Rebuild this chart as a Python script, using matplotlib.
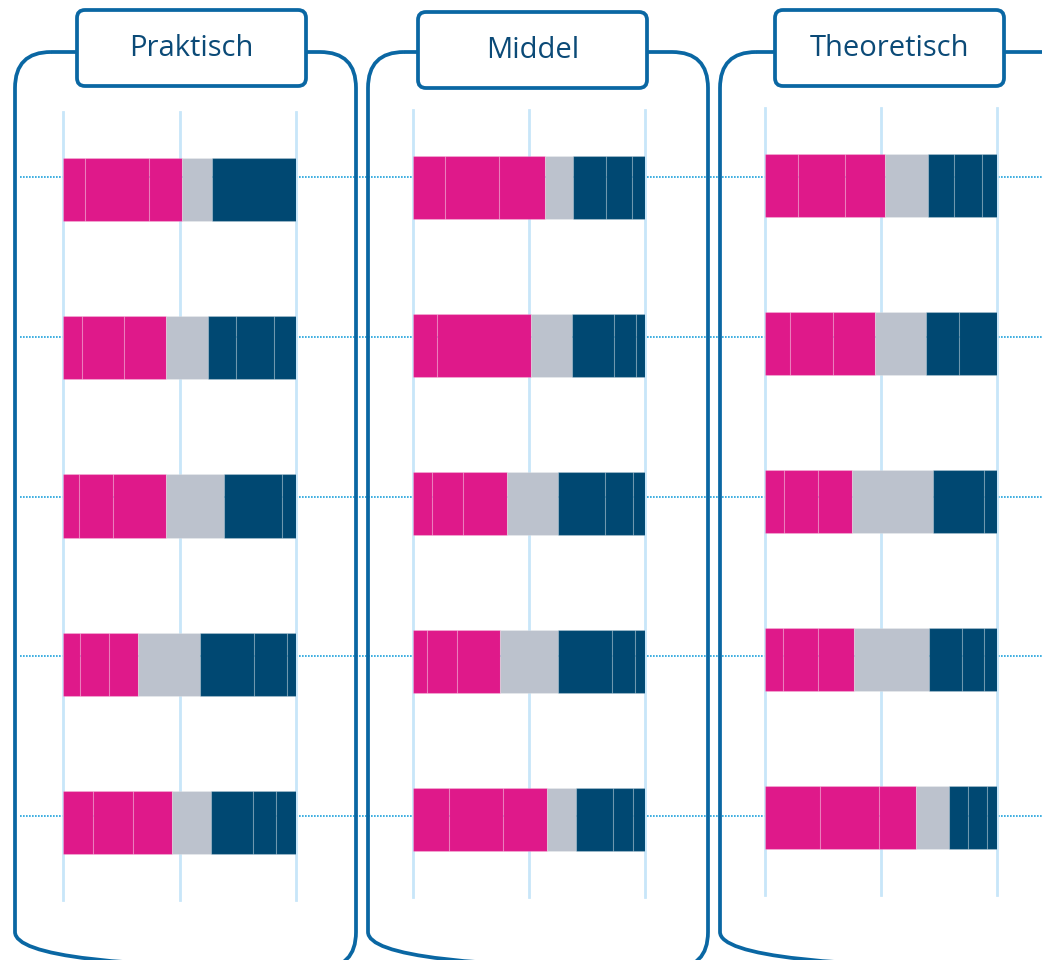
import matplotlib.pyplot as plt
from matplotlib.patches import FancyBboxPatch

W, H = 1042, 960

# drie groepen, vijf stellingen per groep
panels = ['Praktisch', 'Middel', 'Theoretisch']
statements = [0, 1, 2, 3, 4]

# percentages per stelling: 3 x roze (oneens), grijs (neutraal), 3 x donkerblauw (eens)
praktisch = [
    [9.3, 27.4, 14.4, 12.9, 36.0, 0, 0],
    [8.2, 18.0, 18.0, 18.0, 12.0, 16.4, 9.4],
    [6.7, 14.6, 23.0, 25.0, 24.6, 6.1, 0],
    [7.4, 12.2, 12.8, 26.6, 23.1, 13.9, 4.0],
    [12.7, 17.2, 17.0, 16.5, 18.0, 9.9, 8.7],
]
middel = [
    [13.6, 23.5, 19.6, 12.4, 14.3, 10.9, 5.7],
    [10.3, 40.5, 0, 17.7, 18.1, 9.5, 3.9],
    [8.2, 13.4, 18.9, 22.0, 20.3, 12.0, 5.2],
    [6.0, 13.0, 18.5, 25.0, 23.3, 9.7, 4.5],
    [15.5, 23.3, 19.0, 12.5, 16.0, 8.6, 5.1],
]
theoretisch = [
    [14.1, 20.2, 17.3, 18.5, 11.3, 12.2, 6.4],
    [10.7, 18.6, 17.9, 22.2, 14.1, 16.5, 0],
    [8.3, 14.6, 14.6, 34.7, 22.1, 5.7, 0],
    [7.7, 15.0, 15.7, 32.2, 14.3, 9.4, 5.7],
    [23.7, 25.4, 15.8, 14.6, 8.2, 7.8, 4.5],
]
gridticks = [0, 50, 100]

pink = '#df198a'
grey = '#bcc2cd'
navy = '#004872'
segment_colors = [pink, pink, pink, grey, navy, navy, navy]
frame_blue = '#0a67a3'
text_blue = '#0b4a77'

fig = plt.figure(figsize=(W / 100, H / 100), dpi=100)


def px_axes(x0, y0, x1, y1, z):
    # axes geplaatst in pixelcoordinaten (y van boven)
    return fig.add_axes([x0 / W, 1 - y1 / H, (x1 - x0) / W, (y1 - y0) / H], zorder=z)


# achtergrond met de gestippelde hulplijnen
ax_bg = px_axes(0, 0, W, H, 0)
ax_bg.set_xlim(0, W)
ax_bg.set_ylim((H - 177) / 159.75, -177 / 159.75)
ax_bg.hlines(statements, 20, W, colors='#1fa2dc', linestyles=(0, (1, 0.8)), linewidth=1.2)
ax_bg.axis('off')

# de drie staafdiagrammen
axes_pos = [(63, 112, 296, 900), (413, 110, 645, 897), (765, 108, 997, 895)]
for data, pos in zip([praktisch, middel, theoretisch], axes_pos):
    ax = px_axes(*pos, 1)
    ax.patch.set_alpha(0)
    for v in gridticks:
        ax.axvline(v, color='#c8e6f9', linewidth=2, zorder=0, clip_on=False)
    for i, row in zip(statements, data):
        left = 0
        for val, col in zip(row, segment_colors):
            if val > 0:
                ax.barh(i, val, left=left, height=0.4, color=col,
                        edgecolor=(1, 1, 1, 0.2), linewidth=0.8, zorder=2)
            left += val
    ax.set_xlim(0, 100)
    ax.set_ylim(4.49, -0.49)
    ax.axis('off')

# kaders en titels
ax_ov = px_axes(0, 0, W, H, 3)
ax_ov.set_xlim(0, W)
ax_ov.set_ylim(H, 0)
ax_ov.axis('off')
ax_ov.patch.set_alpha(0)

frames = [(15, 52, 356, 968), (368, 52, 708, 968), (720, 52, 1080, 968)]
for x0, y0, x1, y1 in frames:
    ax_ov.add_patch(FancyBboxPatch((x0, y0), x1 - x0, y1 - y0,
                                   boxstyle='round,pad=0,rounding_size=36',
                                   fc='none', ec=frame_blue, lw=2.7, clip_on=False))

title_boxes = [(77, 10, 306, 86), (418, 12, 647, 88), (775, 10, 1004, 86)]
for name, (x0, y0, x1, y1) in zip(panels, title_boxes):
    ax_ov.add_patch(FancyBboxPatch((x0, y0), x1 - x0, y1 - y0,
                                   boxstyle='round,pad=0,rounding_size=8',
                                   fc='white', ec=frame_blue, lw=2.7))
    ax_ov.text((x0 + x1) / 2, (y0 + y1) / 2, name, ha='center', va='center',
               fontsize=21, color=text_blue, family='Open Sans')

plt.savefig('out.png', dpi=100)
